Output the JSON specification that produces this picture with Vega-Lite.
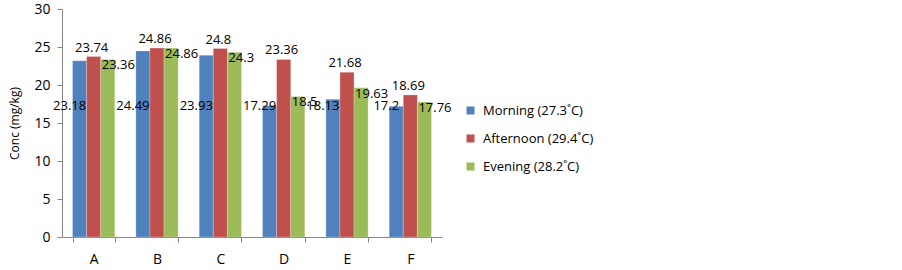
{
  "$schema": "https://vega.github.io/schema/vega-lite/v6.json",
  "width": 380,
  "height": 228,
  "autosize": {"type": "none"},
  "padding": {"left": 62, "top": 9, "right": 460, "bottom": 33},
  "background": "white",
  "config": {
    "view": {"stroke": null},
    "font": "Open Sans",
    "axis": {"grid": false, "domainColor": "#868686", "tickColor": "#868686", "labelColor": "#000", "labelFont": "Open Sans", "labelFontSize": 14, "titleFont": "Open Sans", "titleFontWeight": "normal", "titleColor": "#000"}
  },
  "data": {"values": [
    {"cat": "A", "series": "Morning (27.3˚C)", "value": 23.18},
    {"cat": "A", "series": "Afternoon (29.4˚C)", "value": 23.74},
    {"cat": "A", "series": "Evening (28.2˚C)", "value": 23.36},
    {"cat": "B", "series": "Morning (27.3˚C)", "value": 24.49},
    {"cat": "B", "series": "Afternoon (29.4˚C)", "value": 24.86},
    {"cat": "B", "series": "Evening (28.2˚C)", "value": 24.86},
    {"cat": "C", "series": "Morning (27.3˚C)", "value": 23.93},
    {"cat": "C", "series": "Afternoon (29.4˚C)", "value": 24.8},
    {"cat": "C", "series": "Evening (28.2˚C)", "value": 24.3},
    {"cat": "D", "series": "Morning (27.3˚C)", "value": 17.29},
    {"cat": "D", "series": "Afternoon (29.4˚C)", "value": 23.36},
    {"cat": "D", "series": "Evening (28.2˚C)", "value": 18.5},
    {"cat": "E", "series": "Morning (27.3˚C)", "value": 18.13},
    {"cat": "E", "series": "Afternoon (29.4˚C)", "value": 21.68},
    {"cat": "E", "series": "Evening (28.2˚C)", "value": 19.63},
    {"cat": "F", "series": "Morning (27.3˚C)", "value": 17.2},
    {"cat": "F", "series": "Afternoon (29.4˚C)", "value": 18.69},
    {"cat": "F", "series": "Evening (28.2˚C)", "value": 17.76}
  ]},
  "resolve": {"scale": {"y": "independent"}, "axis": {"y": "independent"}},
  "encoding": {
    "x": {"field": "cat", "type": "nominal", "scale": {"paddingInner": 0.333, "paddingOuter": 0.1667},
      "axis": {"title": null, "labelAngle": 0, "tickBand": "extent", "tickSize": 5, "labelPadding": 10}},
    "xOffset": {"field": "series", "type": "nominal", "sort": ["Morning (27.3˚C)", "Afternoon (29.4˚C)", "Evening (28.2˚C)"], "scale": {"paddingInner": 0, "paddingOuter": 0}}
  },
  "layer": [
    {
      "mark": {"type": "bar", "stroke": "#ffffff", "strokeWidth": 0.4, "strokeOpacity": 0.6},
      "encoding": {
        "y": {"field": "value", "type": "quantitative", "scale": {"domain": [0, 30], "nice": false},
          "axis": {"title": "Conc (mg/kg)", "values": [0, 5, 10, 15, 20, 25, 30], "labelOverlap": false, "tickSize": 5, "labelPadding": 7, "titlePadding": 12, "titleFontSize": 12}},
        "color": {"field": "series", "type": "nominal", "sort": ["Morning (27.3˚C)", "Afternoon (29.4˚C)", "Evening (28.2˚C)"],
          "scale": {"range": ["#4F81BD", "#C0504D", "#9BBB59"]},
          "legend": {"title": null, "orient": "none", "legendX": 402, "legendY": 95, "symbolType": "square", "symbolSize": 64, "symbolStrokeWidth": 0, "labelFontSize": 13, "labelFont": "Open Sans", "rowPadding": 14, "labelOffset": 6}}
      }
    },
    {
      "transform": [{"filter": "datum.series === 'Morning (27.3˚C)'"}],
      "mark": {"type": "text", "align": "center", "baseline": "middle", "dx": -10, "fontSize": 13},
      "encoding": {
        "y": {"datum": 17.3, "type": "quantitative", "scale": {"domain": [0, 30], "nice": false}, "axis": null},
        "text": {"field": "value", "type": "quantitative", "format": ".4~r"}
      }
    },
    {
      "transform": [{"filter": "datum.series === 'Afternoon (29.4˚C)'"}],
      "mark": {"type": "text", "align": "center", "baseline": "bottom", "dx": -2, "dy": -2, "fontSize": 13},
      "encoding": {
        "y": {"field": "value", "type": "quantitative", "scale": {"domain": [0, 30], "nice": false}, "axis": null},
        "text": {"field": "value", "type": "quantitative", "format": ".4~r"}
      }
    },
    {
      "transform": [{"filter": "datum.series === 'Evening (28.2˚C)'"}],
      "mark": {"type": "text", "align": "left", "baseline": "middle", "dx": -6, "dy": 6, "fontSize": 13},
      "encoding": {
        "y": {"field": "value", "type": "quantitative", "scale": {"domain": [0, 30], "nice": false}, "axis": null},
        "text": {"field": "value", "type": "quantitative", "format": ".4~r"}
      }
    }
  ]
}
